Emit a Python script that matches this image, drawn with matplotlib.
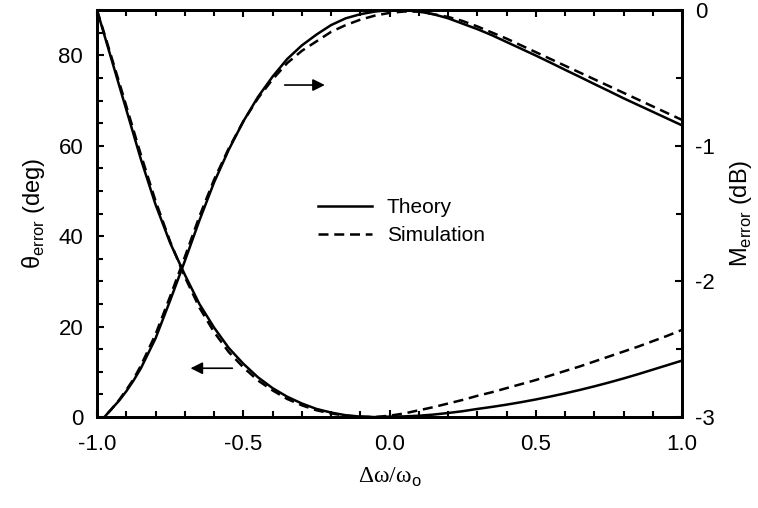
import numpy as np
import matplotlib.pyplot as plt
from matplotlib.ticker import MultipleLocator

# normalised frequency offset
x = [-1.0, -0.975, -0.95, -0.925, -0.9, -0.875, -0.85, -0.8, -0.75, -0.7, -0.65, -0.6,
     -0.55, -0.5, -0.45, -0.4, -0.35, -0.3, -0.25, -0.2, -0.15, -0.1, -0.05, 0.0,
     0.05, 0.1, 0.15, 0.2, 0.25, 0.3, 0.35, 0.4, 0.45, 0.5,
     0.55, 0.6, 0.65, 0.7, 0.75, 0.8, 0.85, 0.9, 0.95, 1.0]

# phase error (deg), left axis
theta_theory = [90, 84.5, 79, 73.5, 68, 62.5, 57, 47, 38.5, 31.5, 25, 19.8,
                15.3, 11.8, 8.8, 6.4, 4.5, 3.0, 1.8, 1.0, 0.4, 0.1, 0.0, 0.1,
                0.15, 0.3, 0.55, 0.9, 1.3, 1.8, 2.25, 2.75, 3.3, 3.9,
                4.55, 5.25, 6.0, 6.8, 7.65, 8.55, 9.5, 10.5, 11.5, 12.5]
theta_sim = [90, 84.8, 79.5, 74.2, 68.8, 63.4, 58, 47.8, 38.8, 31, 24.2, 18.8,
             14.4, 11.0, 8.1, 5.9, 4.0, 2.6, 1.5, 0.8, 0.3, 0.1, 0.0, 0.3,
             0.8, 1.5, 2.2, 3.0, 3.8, 4.7, 5.5, 6.4, 7.3, 8.2,
             9.2, 10.2, 11.2, 12.3, 13.4, 14.5, 15.6, 16.8, 18.0, 19.3]

# magnitude error (dB), right axis
m_theory = [-3.06, -3.0, -2.94, -2.88, -2.81, -2.73, -2.64, -2.42, -2.14, -1.85, -1.55, -1.27,
            -1.03, -0.82, -0.64, -0.49, -0.36, -0.26, -0.18, -0.11, -0.06, -0.03, -0.01, 0.0,
            0.0, -0.01, -0.03, -0.06, -0.1, -0.14, -0.185, -0.235, -0.285, -0.335,
            -0.387, -0.44, -0.492, -0.545, -0.597, -0.65, -0.7, -0.75, -0.8, -0.85]
m_sim = [-3.06, -3.0, -2.94, -2.875, -2.80, -2.72, -2.62, -2.39, -2.11, -1.82, -1.52, -1.25,
         -1.02, -0.82, -0.65, -0.51, -0.39, -0.30, -0.23, -0.16, -0.11, -0.07, -0.04, -0.02,
         -0.01, -0.01, -0.03, -0.05, -0.08, -0.12, -0.165, -0.21, -0.26, -0.31,
         -0.36, -0.41, -0.46, -0.51, -0.56, -0.61, -0.66, -0.71, -0.76, -0.81]

xtick_labels = ['-1.0', '-0.5', '0.0', '0.5', '1.0']
ltick_labels = ['0', '20', '40', '60', '80']
rtick_labels = ['-3', '-2', '-1', '0']

plt.rcParams['font.family'] = ['Liberation Sans', 'DejaVu Sans']
plt.rcParams['font.size'] = 16
plt.rcParams['mathtext.fontset'] = 'custom'
plt.rcParams['mathtext.rm'] = 'Liberation Sans'

fig = plt.figure(figsize=(7.58, 5.08), dpi=100)
ax = fig.add_axes([0.128, 0.179, 0.772, 0.801])
ax2 = ax.twinx()

dash = (0, (4, 2.3))
ax.plot(x, theta_theory, color='black', lw=1.8, label='Theory')
ax.plot(x, theta_sim, color='black', lw=1.8, linestyle=dash, label='Simulation')
ax2.plot(x, m_theory, color='black', lw=1.8)
ax2.plot(x, m_sim, color='black', lw=1.8, linestyle=dash)

ax.set_xlim(-1, 1)
ax.set_ylim(0, 90)
ax2.set_ylim(-3, 0)

ax.xaxis.set_minor_locator(MultipleLocator(0.1))
ax.yaxis.set_minor_locator(MultipleLocator(5))
ax2.yaxis.set_minor_locator(MultipleLocator(0.5))
ax.set_xticks([-1, -0.5, 0, 0.5, 1])
ax.set_xticklabels(xtick_labels)
ax.set_yticks([0, 20, 40, 60, 80])
ax.set_yticklabels(ltick_labels)
ax2.set_yticks([-3, -2, -1, 0])
ax2.set_yticklabels(rtick_labels)

ax.tick_params(axis='x', which='both', direction='in', top=True, bottom=True)
ax.tick_params(axis='y', which='both', direction='in', left=True, right=False)
ax2.tick_params(axis='y', which='both', direction='in', right=True)
for a in (ax, ax2):
    a.tick_params(which='major', length=5, width=1.5, labelsize=16)
    a.tick_params(which='minor', length=4, width=1.5)
    for s in a.spines.values():
        s.set_linewidth(2)
ax.tick_params(axis='x', pad=12)
ax.tick_params(axis='y', pad=10)
ax2.tick_params(axis='y', pad=9)

ax.set_xlabel('Δω/ω$_{\\mathrm{o}}$', fontsize=17,
              family='Liberation Serif', labelpad=8)
ax.set_ylabel('θ$_{\\mathrm{error}}$ (deg)', fontsize=17, labelpad=8)
ax2.set_ylabel('M$_{\\mathrm{error}}$ (dB)', fontsize=17, labelpad=10)

ax.legend(loc='center', bbox_to_anchor=(0.52, 0.48), frameon=False,
          fontsize=15, handlelength=2.6, handletextpad=0.7, labelspacing=0.45)

ax.annotate('', xy=(0.155, 0.12), xytext=(0.236, 0.12), xycoords='axes fraction',
            arrowprops=dict(arrowstyle='-|>', color='black', lw=1.2, mutation_scale=18))
ax.annotate('', xy=(0.394, 0.816), xytext=(0.316, 0.816), xycoords='axes fraction',
            arrowprops=dict(arrowstyle='-|>', color='black', lw=1.2, mutation_scale=18))

fig.savefig('out.png', dpi=100)
